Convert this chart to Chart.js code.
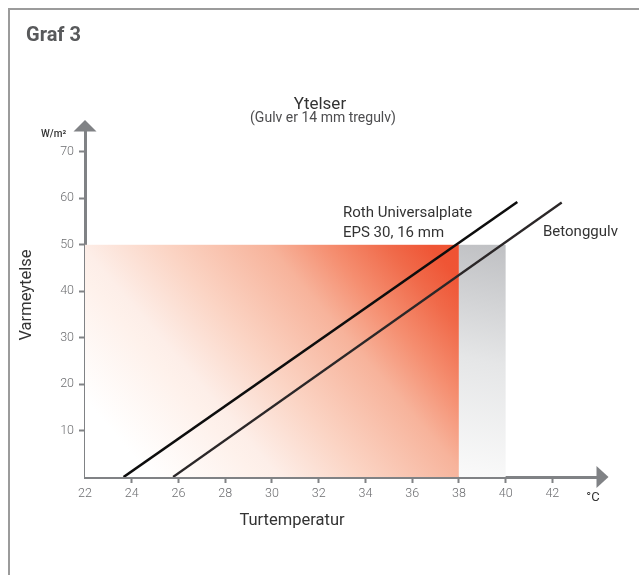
<!DOCTYPE html>
<html>
<head>
<meta charset="utf-8">
<script src="https://cdn.jsdelivr.net/npm/chart.js@4.4.0/dist/chart.umd.min.js"></script>
<style>
  html, body { margin: 0; padding: 0; background: #ffffff; }
  #wrap { width: 639px; height: 575px; position: relative; }
</style>
</head>
<body>
<div id="wrap"><canvas id="c" width="639" height="575"></canvas></div>
<script>
// ---- Data ----
const xTicks = [22, 24, 26, 28, 30, 32, 34, 36, 38, 40, 42];
const yTicks = [10, 20, 30, 40, 50, 60, 70];

const rothX = [23.65, 40.5];
const rothY = [0, 59.2];
const betongX = [25.77, 42.4];
const betongY = [0, 59.1];

// shaded zones: [xStart, xEnd], top value
const redZoneX = [22, 38];
const greyZoneX = [38, 40];
const zoneTop = 50;

const FONT = 'Roboto, "Noto Sans", sans-serif';
const AXIS = '#808285';

function toPts(xs, ys) { return xs.map((x, i) => ({ x: x, y: ys[i] })); }

const zonesPlugin = {
  id: 'zones',
  beforeDatasetsDraw(chart) {
    const { ctx, scales: { x, y } } = chart;
    const y0 = y.getPixelForValue(0), y1 = y.getPixelForValue(zoneTop);
    // red zone: diagonal linear gradient from bottom-left towards upper right
    let xa = x.getPixelForValue(redZoneX[0]), xb = x.getPixelForValue(redZoneX[1]);
    const w = xb - xa, h = y0 - y1;
    let g = ctx.createLinearGradient(xa, y0, xa + 0.882 * w, y0 - 1.217 * h);
    g.addColorStop(0, '#ffffff');
    g.addColorStop(0.116, '#ffffff');
    g.addColorStop(0.30, '#fef1eb');
    g.addColorStop(0.34, '#fdeee8');
    g.addColorStop(0.486, '#fbd4c4');
    g.addColorStop(0.667, '#f7b39b');
    g.addColorStop(0.77, '#f58e70');
    g.addColorStop(0.875, '#f06a4a');
    g.addColorStop(0.95, '#ef5535');
    g.addColorStop(1, '#ef5233');
    ctx.save();
    ctx.fillStyle = g;
    ctx.fillRect(xa, y1, w, h);
    // grey zone
    xa = x.getPixelForValue(greyZoneX[0]); xb = x.getPixelForValue(greyZoneX[1]);
    g = ctx.createLinearGradient(xa, y0, xb, y1);
    g.addColorStop(0, '#fafafa');
    g.addColorStop(0.5, '#e5e6e7');
    g.addColorStop(1, '#bfc0c3');
    ctx.fillStyle = g;
    ctx.fillRect(xa, y1, xb - xa, y0 - y1);
    ctx.restore();
  }
};

const decoPlugin = {
  id: 'deco',
  beforeDraw(chart) {
    const ctx = chart.ctx;
    ctx.save();
    ctx.fillStyle = '#ffffff';
    ctx.fillRect(0, 0, chart.width, chart.height);
    // frame (top + left)
    ctx.strokeStyle = '#9b9b9b';
    ctx.lineWidth = 2;
    ctx.beginPath();
    ctx.moveTo(9, 575);
    ctx.lineTo(9, 9);
    ctx.lineTo(639, 9);
    ctx.stroke();
    ctx.restore();
  },
  afterDraw(chart) {
    const { ctx, chartArea: a } = chart;
    ctx.save();
    // arrows
    ctx.fillStyle = AXIS;
    ctx.beginPath();
    ctx.moveTo(a.left - 11.5, a.top + 0.5);
    ctx.lineTo(a.left + 11.5, a.top + 0.5);
    ctx.lineTo(a.left, a.top - 11);
    ctx.closePath();
    ctx.fill();
    ctx.beginPath();
    ctx.moveTo(a.right - 0.5, a.bottom - 11);
    ctx.lineTo(a.right - 0.5, a.bottom + 11);
    ctx.lineTo(a.right + 11.5, a.bottom);
    ctx.closePath();
    ctx.fill();

    // texts
    ctx.textBaseline = 'alphabetic';
    ctx.fillStyle = '#58595b';
    ctx.font = 'bold 20px ' + FONT;
    ctx.textAlign = 'left';
    ctx.fillText('Graf 3', 26, 41);

    ctx.fillStyle = '#333333';
    ctx.font = '17px ' + FONT;
    ctx.textAlign = 'center';
    ctx.fillText('Ytelser', 320, 109);
    ctx.fillStyle = '#4d4d4f';
    ctx.font = '14px ' + FONT;
    ctx.fillText('(Gulv er 14 mm tregulv)', 323, 122);

    ctx.fillStyle = '#333333';
    ctx.font = '500 10px ' + FONT;
    ctx.textAlign = 'left';
    ctx.fillText('W/m\u00B2', 41, 137);

    ctx.font = '13px ' + FONT;
    ctx.textAlign = 'center';
    ctx.fillText('\u00B0C', 593, 501);

    ctx.font = '16.5px ' + FONT;
    ctx.fillText('Turtemperatur', 292, 525);

    ctx.save();
    ctx.translate(31, 295);
    ctx.rotate(-Math.PI / 2);
    ctx.font = '16.5px ' + FONT;
    ctx.fillText('Varmeytelse', 0, 0);
    ctx.restore();

    ctx.font = '15px ' + FONT;
    ctx.textAlign = 'left';
    ctx.fillText('Roth Universalplate', 343, 217);
    ctx.fillText('EPS 30, 16 mm', 343, 237);
    ctx.fillText('Betonggulv', 543, 236);
    ctx.restore();
  }
};

new Chart(document.getElementById('c'), {
  type: 'scatter',
  data: {
    datasets: [
      { label: 'Roth Universalplate EPS 30, 16 mm', data: toPts(rothX, rothY), showLine: true,
        borderColor: '#0d0d0d', borderWidth: 2.6, pointRadius: 0, fill: false },
      { label: 'Betonggulv', data: toPts(betongX, betongY), showLine: true,
        borderColor: '#2b2728', borderWidth: 2.3, pointRadius: 0, fill: false }
    ]
  },
  options: {
    responsive: false,
    animation: false,
    devicePixelRatio: 1,
    layout: { padding: { left: 0, top: 131, right: 42, bottom: 0 } },
    plugins: { legend: { display: false }, tooltip: { enabled: false }, title: { display: false } },
    scales: {
      x: {
        type: 'linear', min: 22, max: 43.91,
        afterBuildTicks(s) { s.ticks = xTicks.map(v => ({ value: v })); },
        afterFit(s) { s.height = 98; },
        border: { display: true, color: AXIS, width: 3 },
        grid: { drawOnChartArea: false, drawTicks: true, tickLength: 6, tickWidth: 2,
          tickColor: c => (c.tick && c.tick.value === 22) ? 'rgba(0,0,0,0)' : AXIS },
        ticks: { color: '#6d6e71', font: { family: FONT, size: 12.5, weight: '300' }, padding: 3,
          autoSkip: false, maxRotation: 0, callback: v => String(v) }
      },
      y: {
        type: 'linear', min: 0, max: 74.5,
        afterBuildTicks(s) { s.ticks = yTicks.map(v => ({ value: v })); },
        afterFit(s) { s.width = 85; },
        border: { display: true, color: AXIS, width: 3 },
        grid: { drawOnChartArea: false, drawTicks: true, tickLength: 6, tickWidth: 2, tickColor: AXIS },
        ticks: { color: '#6d6e71', font: { family: FONT, size: 12.5, weight: '300' }, padding: 5,
          autoSkip: false, callback: v => String(v) }
      }
    }
  },
  plugins: [decoPlugin, zonesPlugin]
});
</script>
</body>
</html>
